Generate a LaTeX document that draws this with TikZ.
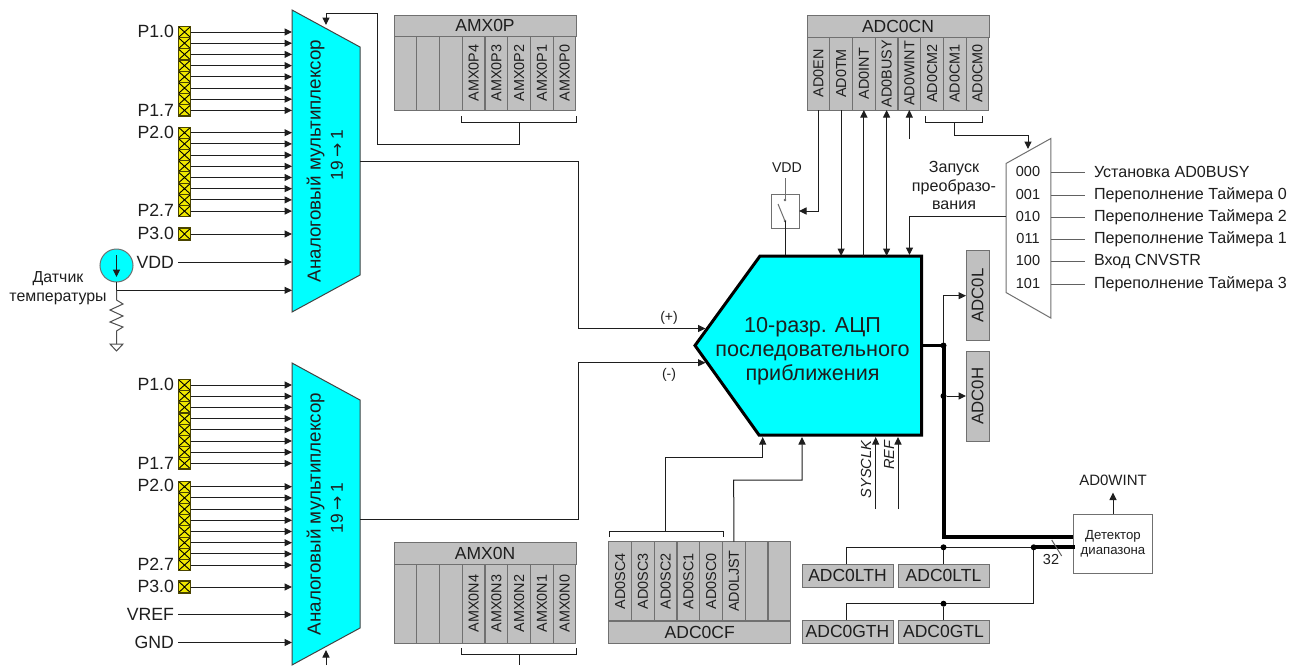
\documentclass[tikz,border=0pt]{standalone}
\usepackage{fontspec}
\setmainfont{Liberation Sans}
\newfontfamily\arrowfont{DejaVu Sans}
\usetikzlibrary{arrows.meta}
\definecolor{ink}{HTML}{1E1E1E}
\definecolor{regfill}{HTML}{C0C0C0}
\definecolor{regline}{HTML}{707070}
\definecolor{cy}{HTML}{00FFFF}
\definecolor{padfill}{HTML}{F0E800}
\definecolor{padline}{HTML}{4A4400}
\newcommand\fsz[1]{\fontsize{#1}{#1}\selectfont}
\newcommand\vtxt[1]{\rotatebox{90}{#1}}
\newcommand\ratio{19\hspace{4pt}{\arrowfont\fsz{17}→}\hspace{4pt}1}
\tikzset{
  x=1pt,y=-1pt,
  every node/.style={inner sep=0pt,outer sep=0pt,text=ink},
  wire/.style={draw=ink,line width=1pt},
  arr/.style={wire,-{Triangle[length=7.5pt,width=7pt]}},
  arrb/.style={wire,{Triangle[length=7.5pt,width=7pt]}-{Triangle[length=7.5pt,width=7pt]}},
  bus/.style={draw=black,line width=4pt},
  padcell/.style={draw=padline,fill=padfill,line width=1.1pt,minimum width=12.5pt,minimum height=11.2pt,
    path picture={\draw[black,line width=.9pt] (path picture bounding box.north west)--(path picture bounding box.south east)
      (path picture bounding box.north east)--(path picture bounding box.south west);}},
  regcell/.style={draw=regline,fill=regfill,line width=1pt},
  bit/.style={regcell,minimum width=22.6pt,minimum height=74pt,font=\fsz{14.4}},
  title/.style={regcell,font=\fsz{17.5}},
  mux/.style={draw=regline!60!black,fill=cy,line width=1pt},
  lab/.style={font=\fsz{17.7},anchor=east},
  small/.style={font=\fsz{16.1}},
  dot/.style={circle,fill=black,minimum size=6pt},
}
\begin{document}
\begin{tikzpicture}
\useasboundingbox (0,0) rectangle (1304,665);
\fill[white] (0,0) rectangle (1304,665);

% ---- input multiplexers
\draw[mux] (292,10)--(360,47)--(360,275)--(292,312)--cycle;
\draw[mux] (292,363)--(360,400)--(360,628)--(292,665)--cycle;
\node[font=\fsz{18.8}] (muxAt) at (315.5,161) {\vtxt{Аналоговый мультиплексор}};
\node[font=\fsz{17.3}] (muxAn) at (337,155) {\vtxt{\ratio}};
\node[font=\fsz{18.8}] (muxBt) at (315.5,514) {\vtxt{Аналоговый мультиплексор}};
\node[font=\fsz{17.3}] (muxBn) at (337,508) {\vtxt{\ratio}};
\coordinate (mA) at (292,0);
\coordinate (mB) at (292,0);

% pads
\foreach \i in {0,...,7}{
  \node[padcell] (aa\i) at (184.5,{32+\i*11.2}) {};
  \draw[arr] (aa\i.east) -- (aa\i -| mA);
  \node[padcell] (ab\i) at (184.5,{132.7+\i*11.2}) {};
  \draw[arr] (ab\i.east) -- (ab\i -| mA);
  \node[padcell] (ba\i) at (184.5,{385+\i*11.2}) {};
  \draw[arr] (ba\i.east) -- (ba\i -| mB);
  \node[padcell] (bb\i) at (184.5,{486.7+\i*11.2}) {};
  \draw[arr] (bb\i.east) -- (bb\i -| mB);
}
\node[padcell,minimum height=12pt] (ac) at (184.5,234) {};
\draw[arr] (ac.east) -- (ac -| mA);
\node[padcell,minimum height=12pt] (bc) at (184.5,587) {};
\draw[arr] (bc.east) -- (bc -| mB);
\node[lab] (la1) at (174,31) {P1.0};
\node[lab] (la2) at (174,110) {P1.7};
\node[lab] (la3) at (174,132) {P2.0};
\node[lab] (la4) at (174,210) {P2.7};
\node[lab] (la5) at (174,233) {P3.0};
\node[lab] (lb1) at (174,384) {P1.0};
\node[lab] (lb2) at (174,463) {P1.7};
\node[lab] (lb3) at (174,485) {P2.0};
\node[lab] (lb4) at (174,564) {P2.7};
\node[lab] (lb5) at (174,586) {P3.0};
\node[lab] (vdd) at (174,262) {VDD};
\node[lab] (vref) at (174,614.5) {VREF};
\node[lab] (gnd) at (174,642.5) {GND};
\draw[arr] (vdd.east)++(4,0) -- (vdd -| mA);
\draw[arr] (vref.east)++(4,0) -- (vref -| mB);
\draw[arr] (gnd.east)++(4,0) -- (gnd -| mB);

% temperature sensor
\node[circle,draw=regline,fill=cy,line width=1pt,minimum size=33pt] (ts) at (116.5,265.5) {};
\draw[arr] (116.5,255) -- (116.5,277);
\node[align=center,font=\fsz{15.9}] (tsl) at (58,288) {Датчик\\[3pt]температуры};
\coordinate (tsj) at (116.5,290.3);
\draw[arr] (ts.south) -- (tsj) -- (tsj -| mA);
\draw[wire,draw=regline!70!black] (tsj) -- (116.5,300) -- (123,304) -- (110,310) -- (123,316) -- (110,322) -- (123,327) -- (116.5,331) -- (116.5,344);
\draw[wire,draw=regline!70!black] (110,344) -- (123,344) -- (116.5,351) -- cycle;

% ---- AMX0P
\node[title,minimum width=182pt,minimum height=21pt] (amxp) at (485,25.5) {AMX0P};
\foreach \n/\t [count=\c from 0] in {pa/,pb/,pc/,p4/AMX0P4,p3/AMX0P3,p2/AMX0P2,p1/AMX0P1,p0/AMX0P0}{
  \node[bit] (\n) at ({405.4+\c*22.75},73) {\vtxt{\t}};
}
\coordinate (brPl) at (461.5,116); \coordinate (brPr) at (576,116);
\coordinate (brPm) at (519,122);
\draw[wire] (brPl) -- (461.5,122) -- (576,122) -- (brPr);
\coordinate (cPa) at (519,144); \coordinate (cPb) at (377,144);
\coordinate (cPc) at (377,13); \coordinate (cPd) at (326,13); \coordinate (cPe) at (326,25);
\draw[arr] (brPm) -- (cPa) -- (cPb) -- (cPc) -- (cPd) -- (cPe);

% ---- AMX0N
\node[title,minimum width=182pt,minimum height=22pt] (amxn) at (485,553) {AMX0N};
\foreach \n/\t [count=\c from 0] in {na/,nb/,nc/,n4/AMX0N4,n3/AMX0N3,n2/AMX0N2,n1/AMX0N1,n0/AMX0N0}{
  \node[bit,minimum height=79pt] (\n) at ({405.4+\c*22.75},603.5) {\vtxt{\t}};
}
\coordinate (brNm) at (519,654); \coordinate (brNe) at (519,665);
\draw[wire] (461.5,648) -- (461.5,654) -- (576,654) -- (576,648);
\draw[wire] (brNm) -- (brNe);
\coordinate (cNs) at (326,665); \coordinate (cNe) at (326,650);
\draw[arr] (cNs) -- (cNe);

% ---- ADC block
\coordinate (adcTL) at (760,256); \coordinate (adcTR) at (921.5,256);
\coordinate (adcBR) at (921.5,435); \coordinate (adcBL) at (759,435);
\coordinate (adcTip) at (695,345.5);
\draw[draw=black,fill=cy,line width=3pt,line join=miter] (adcTL)--(adcTR)--(adcBR)--(adcBL)--(adcTip)--cycle;
\node[align=center,font=\fsz{21.6}] (adct) at (812.5,351) {10-разр. АЦП\\[2.5pt]последовательного\\[2.5pt]приближения};
\coordinate (oA) at (360,161); \coordinate (oAa) at (578,161); \coordinate (oAb) at (578,328.5); \coordinate (oAc) at (705.5,328.5);
\draw[arr] (oA)--(oAa)--(oAb)--(oAc);
\coordinate (oB) at (360,519.5); \coordinate (oBa) at (578,519.5); \coordinate (oBb) at (578,362.7); \coordinate (oBc) at (705.5,362.7);
\draw[arr] (oB)--(oBa)--(oBb)--(oBc);
\node[font=\fsz{14}] (pl) at (669,318) {(+)};
\node[font=\fsz{14}] (mi) at (669,375) {(-)};

% ---- ADC0CN
\node[title,minimum width=182pt,minimum height=22pt] (adccn) at (898,26) {ADC0CN};
\foreach \n/\t [count=\c from 0] in {en/AD0EN,tm/AD0TM,int/AD0INT,busy/AD0BUSY,wint/AD0WINT,cm2/AD0CM2,cm1/AD0CM1,cm0/AD0CM0}{
  \node[bit,minimum height=73pt] (\n) at ({818.4+\c*22.73},73.5) {\vtxt{\t}};
}
\node[draw=regline,fill=white,line width=1pt,minimum width=28pt,minimum height=34pt] (sw) at (785,211) {};
\fill[ink!70] (785,200) circle (1.3) (785,221) circle (1.3);
\draw[wire,draw=regline] (778,204) -- (785,221);
\node[font=\fsz{14.2}] (swv) at (787,168) {VDD};
\coordinate (swt) at (785,178); \coordinate (swi) at (785,200);
\draw[wire,draw=regline] (swt) -- (swi);
\coordinate (swo) at (785,221); \coordinate (swa) at (785,255);
\draw[wire] (swo) -- (swa);
\coordinate (enb) at (en.south |- sw.east);
\draw[arr] (en.south) -- (enb) -- (sw.east);
\draw[arr] (tm.south) -- (tm.south |- adcTL);
\draw[arr] (int.south |- adcTL) -- (int.south);
\draw[arrb] (busy.south) -- (busy.south |- adcTL);
\coordinate (wintin) at (wint.south |- 0,139);
\draw[arr] (wintin) -- (wint.south);

% ---- start-of-conversion mux
\draw[draw=regline,fill=white,line width=1pt] (1006,163.5)--(1050.8,138.5)--(1050.8,318)--(1006,292.5)--cycle;
\node[small,align=center] (start) at (954,185.5) {Запуск\\[2.5pt]преобразо-\\[2.5pt]вания};
\coordinate (smo) at (1006,216.5); \coordinate (smb) at (909.5,216.5); \coordinate (sme) at (909.5,255);
\draw[arr] (smo)--(smb)--(sme);
\draw[wire] (925.6,116) -- (925.6,122) -- (982.4,122) -- (982.4,116);
\coordinate (cmb) at (954.4,122); \coordinate (cmc) at (954.4,135); \coordinate (cmd) at (1028,135); \coordinate (cme) at (1028,149);
\draw[arr] (cmb)--(cmc)--(cmd)--(cme);
\foreach \code/\txt/\yy [count=\c] in {000/Установка AD0BUSY/172,001/Переполнение Таймера 0/195,010/Переполнение Таймера 2/217,011/Переполнение Таймера 1/239,100/Вход CNVSTR/261,101/Переполнение Таймера 3/284}{
  \node[font=\fsz{14.5}] (code\c) at (1028,\yy) {\code};
  \node[small,anchor=west] (src\c) at (1094,\yy) {\txt};
  \draw[wire,draw=ink!70] (1050.8,\yy) -- (1085,\yy);
}

% ---- result registers and bus
\node[regcell,minimum width=23pt,minimum height=89.5pt,font=\fsz{16.8}] (adcl) at (977.5,295.5) {\vtxt{ADC0L}};
\node[regcell,minimum width=23pt,minimum height=90pt,font=\fsz{16.8}] (adch) at (977.5,396) {\vtxt{ADC0H}};
\coordinate (busA) at (921,345.5); \coordinate (busB) at (943.5,345.5);
\coordinate (busC) at (943.5,536.7); \coordinate (busD) at (1074,536.7);
\draw[draw=black,line width=3pt] (busA) -- (busB);
\draw[bus] (busB) -- (busC) -- (busD);
\node[dot] (d1) at (busB) {};
\node[dot] (d2) at (943.5,396) {};
\coordinate (ltb) at (943.5,295.7);
\draw[arr] (d1) -- (ltb) -- (adcl.west |- ltb);
\draw[arr] (d2) -- (adch.west |- d2);

% ---- window detector
\node[draw=regline,fill=white,line width=1pt,minimum width=79.5pt,minimum height=59pt,align=center,font=\fsz{13.2}] (det) at (1113,543.7) {Детектор\\[2pt]диапазона};
\node[font=\fsz{15}] (awint) at (1113,480) {AD0WINT};
\draw[arr] (det.north) -- (awint.south |- 0,492.5);
\node[regcell,minimum width=91pt,minimum height=23pt,font=\fsz{17.5}] (lth) at (847.5,575.5) {ADC0LTH};
\node[regcell,minimum width=91pt,minimum height=23pt,font=\fsz{17.5}] (ltl) at (943.5,575.5) {ADC0LTL};
\node[regcell,minimum width=91pt,minimum height=23pt,font=\fsz{17.5}] (gth) at (847.5,631.5) {ADC0GTH};
\node[regcell,minimum width=91pt,minimum height=23pt,font=\fsz{17.5}] (gtl) at (943.5,631.5) {ADC0GTL};
\coordinate (wl) at (846.7,547.3); \coordinate (wm) at (1033.7,547.3); \coordinate (wg) at (1033.7,603.7); \coordinate (wh) at (846.7,603.7);
\draw[wire] (lth.north -| wl) -- (wl) -- (wm);
\draw[wire] (wm) -- (wg) -- (wh) -- (gth.north -| wh);
\node[dot] (d3) at (943.5,547.3) {};
\node[dot] (d4) at (943.5,603.7) {};
\node[dot] (d5) at (wm) {};
\draw[wire] (d3) -- (ltl.north);
\draw[wire] (d4) -- (gtl.north);
\draw[bus] (wm) -- (1075,547.3);
\coordinate (sl1) at (1051.7,540); \coordinate (sl2) at (1061.7,556);
\draw[wire,draw=ink!70] (sl1) -- (sl2);
\node[font=\fsz{14.5}] (n32) at (1051,559) {32};

% ---- ADC0CF
\node[title,minimum width=182pt,minimum height=22pt] (adccf) at (699.7,632) {ADC0CF};
\foreach \n/\t [count=\c from 0] in {sc4/AD0SC4,sc3/AD0SC3,sc2/AD0SC2,sc1/AD0SC1,sc0/AD0SC0,ljst/AD0LJST,cfa/,cfb/}{
  \node[bit,minimum height=79pt] (\n) at ({620.1+\c*22.75},581) {\vtxt{\t}};
}
\draw[wire] (609,537) -- (609,531) -- (723,531) -- (723,537);
\coordinate (scb) at (665.7,531); \coordinate (scc) at (665.7,457.7); \coordinate (scd) at (762.7,457.7); \coordinate (sce) at (762.7,437);
\draw[arr] (scb)--(scc)--(scd)--(sce);
\coordinate (ljb) at (733.7,480); \coordinate (ljc) at (802,480); \coordinate (ljd) at (802,437);
\draw[arr] (ljst.north)--(ljb)--(ljc)--(ljd);
\coordinate (clk) at (875.7,509); \coordinate (clke) at (875.7,437);
\coordinate (ref) at (898,509); \coordinate (refe) at (898,437);
\draw[arr] (clk)--(clke);
\draw[arr] (ref)--(refe);
\node[font=\fsz{14.6}\itshape] (clkl) at (866,469.5) {\vtxt{SYSCLK}};
\node[font=\fsz{14.6}\itshape] (refl) at (889,455) {\vtxt{REF}};
\end{tikzpicture}
\end{document}
